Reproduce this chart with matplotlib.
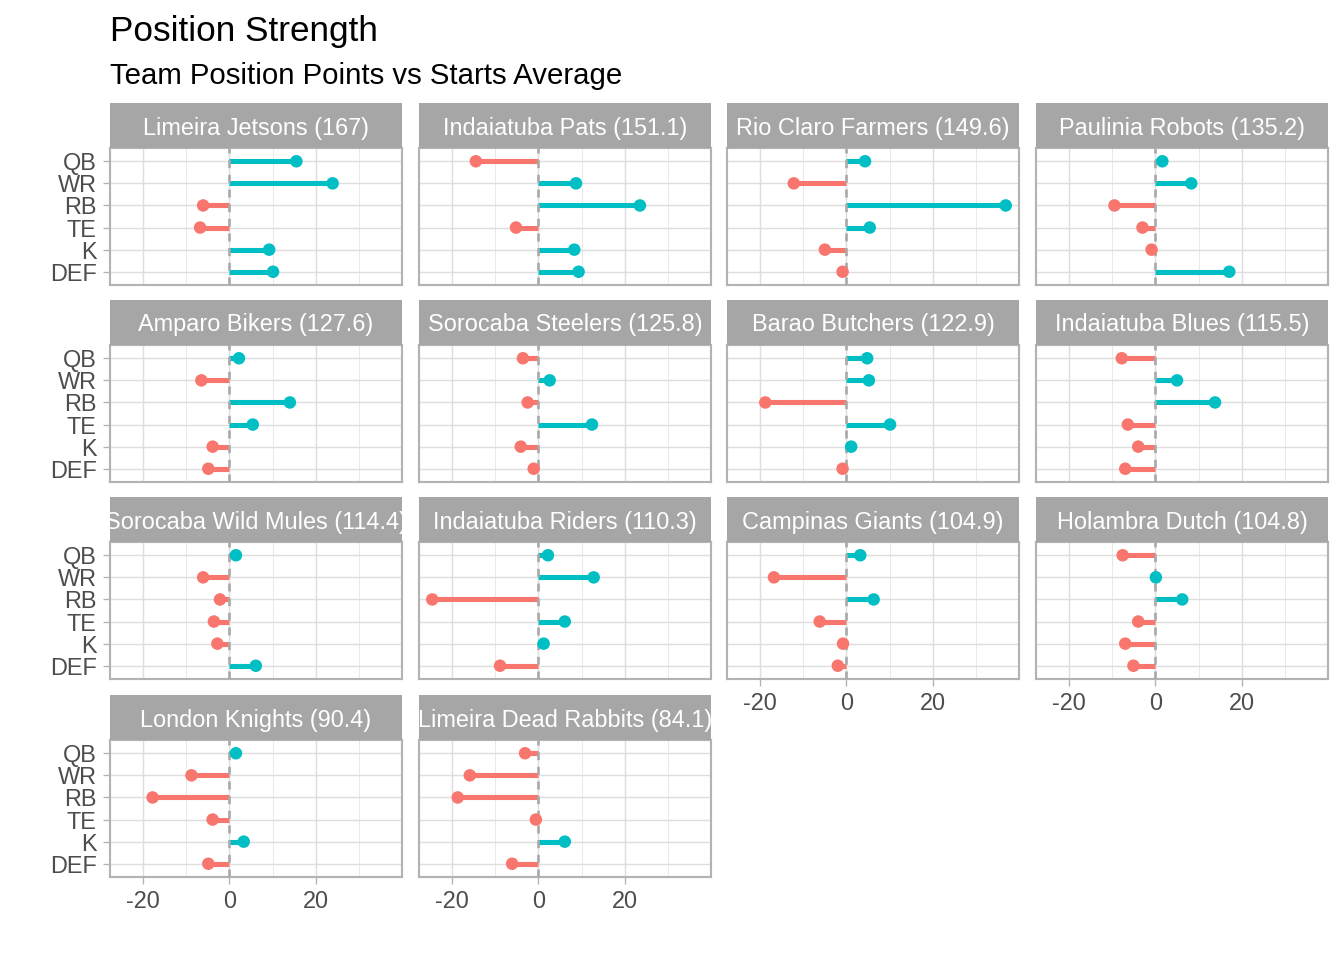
import matplotlib.pyplot as plt
import numpy as np

plt.rcParams['font.family'] = ['Liberation Sans', 'DejaVu Sans']

# teams in facet order, with season total in the strip
teams = ["Limeira Jetsons", "Indaiatuba Pats", "Rio Claro Farmers", "Paulinia Robots",
         "Amparo Bikers", "Sorocaba Steelers", "Barao Butchers", "Indaiatuba Blues",
         "Sorocaba Wild Mules", "Indaiatuba Riders", "Campinas Giants", "Holambra Dutch",
         "London Knights", "Limeira Dead Rabbits"]
team_totals = ["167", "151.1", "149.6", "135.2", "127.6", "125.8", "122.9", "115.5",
               "114.4", "110.3", "104.9", "104.8", "90.4", "84.1"]
positions = ["QB", "WR", "RB", "TE", "K", "DEF"]

# position points minus starts average (QB, WR, RB, TE, K, DEF)
diff_jetsons = [15.5, 23.9, -6.1, -6.8, 9.2, 10.1]
diff_pats = [-14.5, 8.7, 23.5, -5.2, 8.3, 9.3]
diff_farmers = [4.3, -12.2, 36.9, 5.4, -5.0, -0.9]
diff_robots = [1.6, 8.3, -9.5, -3.0, -0.9, 17.1]
diff_bikers = [2.2, -6.5, 14.0, 5.4, -3.9, -4.9]
diff_steelers = [-3.6, 2.6, -2.5, 12.4, -4.1, -1.1]
diff_butchers = [4.8, 5.2, -18.8, 10.1, 1.1, -0.9]
diff_blues = [-7.8, 5.0, 13.8, -6.4, -4.0, -7.0]
diff_mules = [1.5, -6.1, -2.2, -3.6, -2.8, 6.1]
diff_riders = [2.2, 12.8, -24.6, 6.1, 1.2, -8.9]
diff_giants = [3.2, -16.8, 6.3, -6.2, -0.8, -2.0]
diff_dutch = [-7.6, 0.1, 6.2, -4.0, -7.0, -5.1]
diff_knights = [1.5, -8.8, -17.8, -3.9, 3.3, -4.9]
diff_rabbits = [-3.1, -15.9, -18.7, -0.6, 6.1, -6.1]

diffs = [diff_jetsons, diff_pats, diff_farmers, diff_robots, diff_bikers, diff_steelers,
         diff_butchers, diff_blues, diff_mules, diff_riders, diff_giants, diff_dutch,
         diff_knights, diff_rabbits]

neg_col = "#F8766D"
pos_col = "#00BFC4"

W, H = 1344, 960
fig = plt.figure(figsize=(7, 5), dpi=192)

# shared x range, ggplot style 5% expansion
allv = np.concatenate(diffs)
lo, hi = allv.min(), allv.max()
pad = 0.05 * (hi - lo)
xlim = (lo - pad, hi + pad)

col_left = [110, 419, 727, 1036]
panel_w = 292
row_top = [148, 345, 542, 740]
panel_h = 137
strip_h = 45

ypos = np.arange(len(positions))

for i, team in enumerate(teams):
    r, c = divmod(i, 4)
    x0 = col_left[c] / W
    y0 = 1 - (row_top[r] + panel_h) / H
    ax = fig.add_axes([x0, y0, panel_w / W, panel_h / H])

    vals = np.array(diffs[i])
    cols = [pos_col if v >= 0 else neg_col for v in vals]

    # grid
    for gx in [-20, 0, 20]:
        ax.axvline(gx, color="#DEDEDE", lw=0.55, zorder=0)
    for gx in [-10, 10, 30]:
        ax.axvline(gx, color="#E4E4E4", lw=0.3, zorder=0)
    for gy in ypos:
        ax.axhline(gy, color="#DEDEDE", lw=0.55, zorder=0)

    ax.hlines(ypos, 0, vals, colors=cols, lw=1.9, zorder=2)
    ax.axvline(0, color="#A9A9A9", lw=1.0, ls=(0, (3, 2.5)), zorder=3)
    ax.scatter(vals, ypos, c=cols, s=22, zorder=4, linewidths=0)

    ax.set_xlim(xlim)
    ax.set_ylim(len(positions) - 0.4, -0.6)
    ax.set_yticks(ypos)
    ax.set_xticks([-20, 0, 20])
    ax.set_xticklabels(["-20", "0", "20"])
    ax.set_yticklabels(positions)
    ax.tick_params(length=2.75, width=0.5, color="#B3B3B3", labelcolor="#4D4D4D",
                   labelsize=8.8, pad=2.2)
    if c != 0:
        ax.tick_params(axis="y", left=False, labelleft=False)
    if i + 4 < len(teams):
        ax.tick_params(axis="x", bottom=False, labelbottom=False)
    for sp in ax.spines.values():
        sp.set_color("#B3B3B3")
        sp.set_linewidth(0.8)
    ax.set_facecolor("white")

    # strip
    sax = fig.add_axes([x0, 1 - row_top[r] / H, panel_w / W, strip_h / H])
    sax.set_facecolor("#A6A6A6")
    sax.set_xticks([])
    sax.set_yticks([])
    for sp in sax.spines.values():
        sp.set_visible(False)
    sax.text(0.5, 0.5, f"{team} ({team_totals[i]})", transform=sax.transAxes,
             ha="center", va="center_baseline", color="white", fontsize=8.8, clip_on=True)

fig.text(110 / W, 1 - 28 / H, "Position Strength", fontsize=13.2, color="black",
         ha="left", va="center_baseline")
fig.text(110 / W, 1 - 73 / H, "Team Position Points vs Starts Average", fontsize=11,
         color="black", ha="left", va="center_baseline")

fig.savefig("out.png", dpi=192)
